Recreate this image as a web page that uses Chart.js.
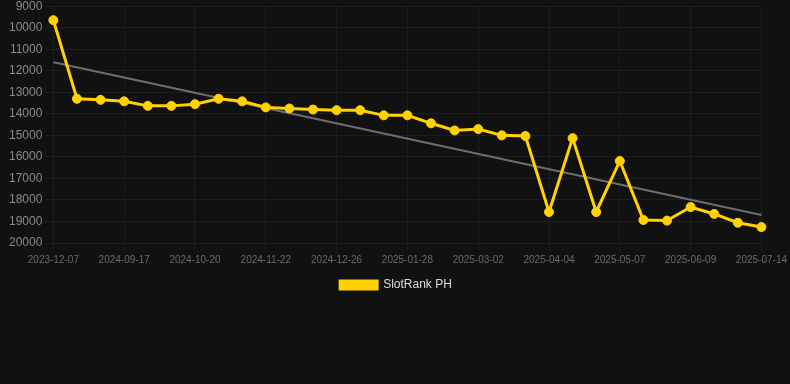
<!DOCTYPE html>
<html>
<head>
<meta charset="utf-8">
<script src="https://cdn.jsdelivr.net/npm/chart.js@4"></script>
<style>
  html, body { margin: 0; padding: 0; background: #111111; overflow: hidden; }
  #wrap { width: 790px; height: 305px; margin-top: -4px; }
</style>
</head>
<body>
<div id="wrap"><canvas id="mychart1"></canvas></div>
<script>
const dates = [
  "2023-12-07", "2024-08-26", "2024-09-06", "2024-09-17", "2024-09-28",
  "2024-10-09", "2024-10-20", "2024-10-31", "2024-11-11", "2024-11-22",
  "2024-12-03", "2024-12-14", "2024-12-26", "2025-01-06", "2025-01-17",
  "2025-01-28", "2025-02-08", "2025-02-19", "2025-03-02", "2025-03-13",
  "2025-03-24", "2025-04-04", "2025-04-15", "2025-04-26", "2025-05-07",
  "2025-05-18", "2025-05-29", "2025-06-09", "2025-06-21", "2025-07-02",
  "2025-07-14",
];
const rank = [
  9650, 13300, 13350, 13420, 13630, 13630, 13550, 13300, 13420, 13700,
  13750, 13800, 13830, 13830, 14070, 14070, 14440, 14770, 14710, 15000,
  15030, 18560, 15130, 18560, 16190, 18930, 18960, 18330, 18650, 19060,
  19260,
];
// trend line: only the two end points, joined across the gaps
const trend = [11600];
for (let i = 1; i < dates.length - 1; i++) trend.push(null);
trend.push(18700);

const yellow = "#FFD200";
const ctx = document.getElementById("mychart1").getContext("2d");

new Chart(ctx, {
  type: "line",
  data: {
    labels: dates,
    datasets: [
      {
        label: "SlotRank PH",
        data: rank,
        borderColor: yellow,
        backgroundColor: yellow,
        borderWidth: 3,
        pointRadius: 4.5,
        pointBorderWidth: 1,
        pointBackgroundColor: yellow,
        pointBorderColor: yellow,
        tension: 0,
      },
      {
        label: "trend",
        data: trend,
        borderColor: "#6e6e6e",
        borderWidth: 2,
        pointRadius: 0,
        spanGaps: true,
      },
    ],
  },
  options: {
    responsive: true,
    maintainAspectRatio: false,
    animation: false,
    layout: { padding: { left: 6, right: 4 } },
    plugins: {
      legend: {
        position: "bottom",
        labels: {
          color: "#dddddd",
          font: { family: "Liberation Sans, Arial", size: 12 },
          boxWidth: 37,
          boxHeight: 8,
          filter: (item) => item.text !== "trend",
        },
      },
      tooltip: { enabled: false },
    },
    scales: {
      x: {
        grid: { color: "#1e1e1e", tickLength: 8 },
        border: { color: "#1e1e1e" },
        ticks: {
          color: "#6a6a6a",
          font: { family: "Liberation Sans, Arial", size: 10 },
          maxRotation: 0,
          autoSkip: false,
          callback: function (val, i) {
            return i % 3 === 0 ? this.getLabelForValue(val) : null;
          },
        },
      },
      y: {
        reverse: true,
        min: 9000,
        max: 20000,
        grid: { color: "#1e1e1e" },
        border: { color: "#1e1e1e" },
        ticks: {
          stepSize: 1000,
          color: "#8a8a8a",
          font: { family: "Liberation Sans, Arial", size: 12 },
          callback: (v) => String(v),
        },
      },
    },
  },
});
</script>
</body>
</html>
